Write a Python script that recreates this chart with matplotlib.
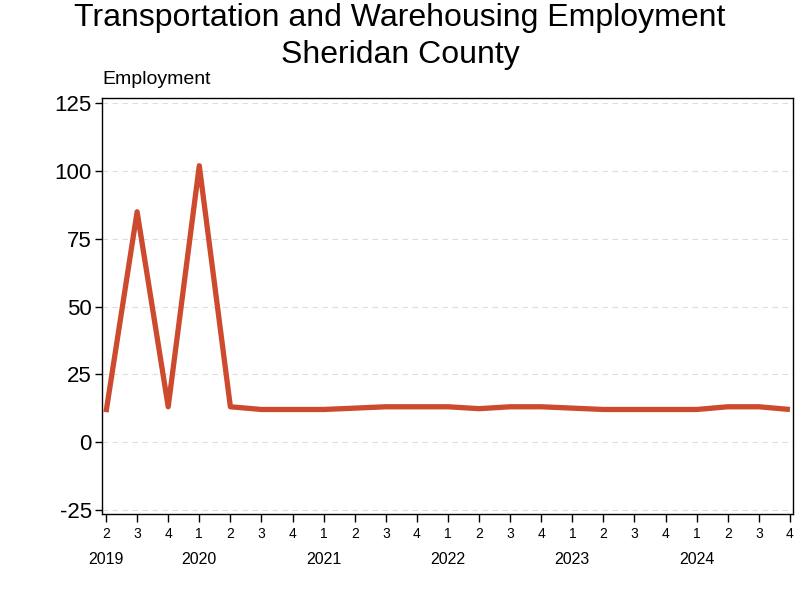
import matplotlib
matplotlib.use("Agg")
import matplotlib.pyplot as plt
import matplotlib.transforms as mtransforms

quarters = ["2", "3", "4", "1", "2", "3", "4", "1", "2", "3", "4", "1", "2", "3", "4",
            "1", "2", "3", "4", "1", "2", "3", "4"]
years = ["2019", "2020", "2021", "2022", "2023", "2024"]
year_pos = [0, 3, 7, 11, 15, 19]
employment = [11, 85, 13, 102, 13, 12, 12, 12, 12.5, 13, 13, 13, 12.3, 13, 13,
              12.5, 12, 12, 12, 12, 13, 13, 12]
yticks = [-25, 0, 25, 50, 75, 100, 125]

plt.rcParams['font.family'] = ['Liberation Sans', 'DejaVu Sans']

fig = plt.figure(figsize=(8, 6), dpi=100)
ax = fig.add_axes([0.1269, 0.1433, 0.8644, 0.6933])

x = list(range(len(employment)))
ax.plot(x, employment, color='#CD4A2F', lw=3.8, solid_capstyle='butt', solid_joinstyle='round')

ax.set_xlim(-0.145, 22.1)
ax.set_ylim(-26.6, 127.0)
ax.set_yticks(yticks)
ax.set_yticklabels([str(v) for v in yticks], fontsize=16)
ax.set_xticks(x)
ax.set_xticklabels(quarters, fontsize=10)
ax.tick_params(axis='x', length=6, width=1, pad=3)
ax.tick_params(axis='y', length=5, width=1, pad=2)
for yv in yticks:
    ax.axhline(yv, color='#dddddd', lw=0.8, ls=(0, (5, 4)), zorder=0)
for s in ax.spines.values():
    s.set_linewidth(1)

trans = mtransforms.blended_transform_factory(ax.transData, fig.transFigure)
for yr, p in zip(years, year_pos):
    ax.text(p, (600 - 559) / 600, yr, transform=trans, ha='center', va='center',
            fontsize=11.5)

fig.text(0.128, (600 - 80) / 600, "Employment", fontsize=14, ha='left', va='center')
fig.suptitle("Transportation and Warehousing Employment\nSheridan County",
             fontsize=23, y=0.995, va='top', linespacing=1.3)

fig.savefig("out.png", dpi=100)
